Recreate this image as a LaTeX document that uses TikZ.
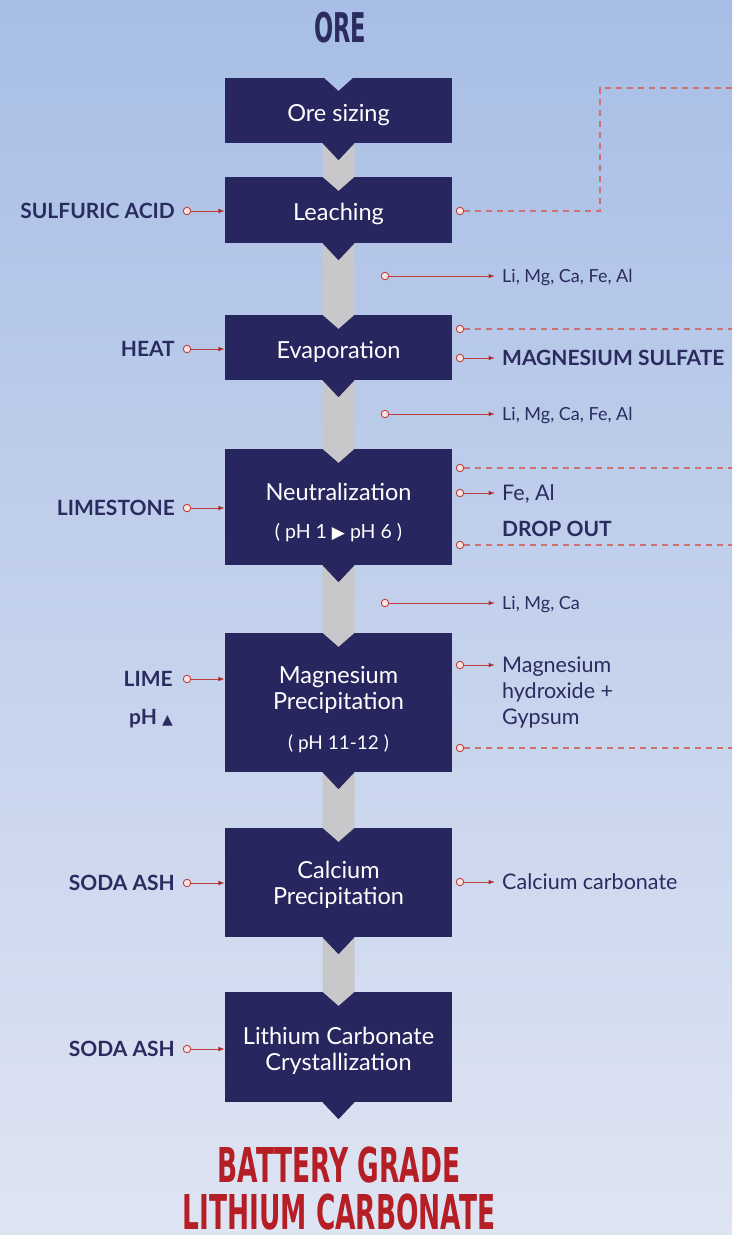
\documentclass[tikz,border=0pt]{standalone}
\usepackage{fontspec}
\setmainfont{Lato}
\newfontfamily\symfont{DejaVu Sans}
\newfontfamily\titlefont[FakeStretch=0.55]{DejaVu Sans}
\usetikzlibrary{arrows.meta}
\definecolor{bgtop}{RGB}{168,190,230}
\definecolor{bgbot}{RGB}{222,228,242}
\definecolor{notchbg}{RGB}{171,193,231}
\definecolor{boxblue}{RGB}{40,38,95}
\definecolor{labelblue}{RGB}{42,44,96}
\definecolor{titlered}{RGB}{181,30,36}
\definecolor{linered}{RGB}{192,62,62}
\definecolor{dashred}{RGB}{204,112,112}
\definecolor{dotpink}{RGB}{250,228,228}
\definecolor{bargray}{RGB}{200,200,203}

\begin{document}
\begin{tikzpicture}[
  x=1pt,y=-1pt,
  >={Latex[length=6.5pt,width=5pt]},
  stage/.style={fill=boxblue,text=white,minimum width=227pt,inner sep=0pt,
    align=center,text depth=0pt,font=\fontsize{23.5}{26}\selectfont},
  bar/.style={fill=bargray},
  tip/.style={fill=boxblue},
  dot/.style={circle,draw=linered,fill=dotpink,line width=0.9pt,
    minimum size=7.5pt,inner sep=0pt},
  inlabel/.style={text=labelblue,inner sep=0pt,anchor=east,text depth=0pt,
    font=\fontsize{21}{24}\selectfont\bfseries},
  outlabel/.style={text=labelblue,inner sep=0pt,anchor=west,align=left,
    text depth=0pt,font=\fontsize{21.5}{26}\selectfont},
  smalllabel/.style={text=labelblue,inner sep=0pt,anchor=west,text depth=0pt,
    font=\fontsize{18}{20}\selectfont},
  feed/.style={draw=linered,line width=1pt,->},
  waste/.style={draw=dashred,line width=1.1pt,dash pattern=on 6pt off 5pt},
  ]
  \useasboundingbox (0,0) rectangle (732,1235);
  \shade[top color=bgtop,bottom color=bgbot] (0,0) rectangle (732,1235);

  % titles
  \node[font=\titlefont\bfseries\fontsize{41}{41}\selectfont,text=labelblue,text depth=0pt] (ore) at (340,27) {ORE};
  \node[font=\titlefont\bfseries\fontsize{48}{47}\selectfont,text=titlered,align=center,text depth=0pt] (product) at (339,1188) {BATTERY GRADE\\LITHIUM CARBONATE};

  % process stages
  \node[stage,minimum height=65pt,text height=21pt] (b1) at (338.5,110.5) {Ore sizing};
  \node[stage,minimum height=66pt,text height=21pt] (b2) at (338.5,210) {Leaching};
  \node[stage,minimum height=65pt,text height=21pt] (b3) at (338.5,347.5) {Evaporation};
  \node[stage,minimum height=116pt] (b4) at (338.5,507) {\rule{0pt}{24pt}Neutralization\\[12pt]{\fontsize{19.5}{20}\selectfont( pH 1 {\symfont\fontsize{17}{17}\selectfont▶} pH 6 )}};
  \node[stage,minimum height=139pt] (b5) at (338.5,702.5) {\rule{0pt}{27pt}Magnesium\\Precipitation\\[14pt]{\fontsize{19}{20}\selectfont( pH 11-12 )}};
  \node[stage,minimum height=109pt] (b6) at (338.5,882.5) {Calcium\\Precipitation};
  \node[stage,minimum height=110pt] (b7) at (338.5,1047) {\rule{0pt}{21pt}Lithium Carbonate\\Crystallization};

  % gray flow bars
  \fill[bar] ([xshift=-16pt]b1.south) -- ([xshift=16pt]b1.south) -- ([xshift=16pt]b2.north) -- ([yshift=-14pt]b2.north) -- ([xshift=-16pt]b2.north) -- cycle;
  \fill[bar] ([xshift=-16pt]b2.south) -- ([xshift=16pt]b2.south) -- ([xshift=16pt]b3.north) -- ([yshift=-14pt]b3.north) -- ([xshift=-16pt]b3.north) -- cycle;
  \fill[bar] ([xshift=-16pt]b3.south) -- ([xshift=16pt]b3.south) -- ([xshift=16pt]b4.north) -- ([yshift=-14pt]b4.north) -- ([xshift=-16pt]b4.north) -- cycle;
  \fill[bar] ([xshift=-16pt]b4.south) -- ([xshift=16pt]b4.south) -- ([xshift=16pt]b5.north) -- ([yshift=-14pt]b5.north) -- ([xshift=-16pt]b5.north) -- cycle;
  \fill[bar] ([xshift=-16pt]b5.south) -- ([xshift=16pt]b5.south) -- ([xshift=16pt]b6.north) -- ([yshift=-14pt]b6.north) -- ([xshift=-16pt]b6.north) -- cycle;
  \fill[bar] ([xshift=-16pt]b6.south) -- ([xshift=16pt]b6.south) -- ([xshift=16pt]b7.north) -- ([yshift=-14pt]b7.north) -- ([xshift=-16pt]b7.north) -- cycle;

  % notch on first stage, tips below every stage
  \fill[notchbg] ([xshift=-15pt,yshift=0.5pt]b1.north) -- ([xshift=15pt,yshift=0.5pt]b1.north) -- ([yshift=-13pt]b1.north) -- cycle;
  \fill[tip] ([xshift=-16pt]b1.south) -- ([xshift=16pt]b1.south) -- ([yshift=-17pt]b1.south) -- cycle;
  \fill[tip] ([xshift=-16pt]b2.south) -- ([xshift=16pt]b2.south) -- ([yshift=-17pt]b2.south) -- cycle;
  \fill[tip] ([xshift=-16pt]b3.south) -- ([xshift=16pt]b3.south) -- ([yshift=-17pt]b3.south) -- cycle;
  \fill[tip] ([xshift=-16pt]b4.south) -- ([xshift=16pt]b4.south) -- ([yshift=-17pt]b4.south) -- cycle;
  \fill[tip] ([xshift=-16pt]b5.south) -- ([xshift=16pt]b5.south) -- ([yshift=-17pt]b5.south) -- cycle;
  \fill[tip] ([xshift=-16pt]b6.south) -- ([xshift=16pt]b6.south) -- ([yshift=-17pt]b6.south) -- cycle;
  \fill[tip] ([xshift=-16pt]b7.south) -- ([xshift=16pt]b7.south) -- ([yshift=-17pt]b7.south) -- cycle;

  % inputs
  \node[inlabel] (acid) at (175,211) {SULFURIC ACID};
  \node[dot] (dacid) at (187,211) {};
  \node[inlabel] (heat) at (175,349) {HEAT};
  \node[dot] (dheat) at (187,349) {};
  \node[inlabel] (limestone) at (175,508) {LIMESTONE};
  \node[dot] (dlimestone) at (187,508) {};
  \node[inlabel] (lime) at (173,679) {LIME};
  \node[dot] (dlime) at (187,679) {};
  \node[inlabel] (ph) at (173,717) {pH {\symfont\fontsize{14}{14}\selectfont▲}};
  \node[inlabel] (soda1) at (175,883) {SODA ASH};
  \node[dot] (dsoda1) at (187,883) {};
  \node[inlabel] (soda2) at (175,1049) {SODA ASH};
  \node[dot] (dsoda2) at (187,1049) {};

  % solution streams
  \node[dot] (ds1) at (385,276) {};
  \node[smalllabel] (s1) at (502,276) {Li, Mg, Ca, Fe, Al};
  \node[dot] (ds2) at (385,414) {};
  \node[smalllabel] (s2) at (502,414) {Li, Mg, Ca, Fe, Al};
  \node[dot] (ds3) at (385,603) {};
  \node[smalllabel] (s3) at (502,603) {Li, Mg, Ca};

  % outputs
  \node[dot] (dleach) at (460,211) {};
  \node[dot] (devap1) at (460,329) {};
  \node[dot] (devap2) at (460,358) {};
  \node[outlabel,font=\fontsize{21}{24}\selectfont\bfseries] (mgso) at (502,358) {MAGNESIUM SULFATE};
  \node[dot] (dneut1) at (460,468) {};
  \node[dot] (dneut2) at (460,493) {};
  \node[outlabel] (feal) at (502,493) {Fe, Al};
  \node[outlabel,font=\fontsize{21}{24}\selectfont\bfseries] (drop) at (502,529) {DROP OUT};
  \node[dot] (dneut3) at (460,545) {};
  \node[dot] (dmag1) at (460,665) {};
  \node[outlabel,anchor=north west,text depth=] (mgoh) at (502,657) {Magnesium\\hydroxide +\\Gypsum};
  \node[dot] (dmag2) at (460,748) {};
  \node[dot] (dcal) at (460,882) {};
  \node[outlabel] (caco) at (502,882) {Calcium carbonate};

  % ends of recycle lines
  \coordinate (k1) at (600,88);
  \coordinate (e1) at (732,88);
  \coordinate (e2) at (732,329);
  \coordinate (e3) at (732,468);
  \coordinate (e4) at (732,545);
  \coordinate (e5) at (732,748);

  \path[feed]
  (dacid) edge (dacid -| b2.west)
  (dheat) edge (dheat -| b3.west)
  (dlimestone) edge (dlimestone -| b4.west)
  (dlime) edge (dlime -| b5.west)
  (dsoda1) edge (dsoda1 -| b6.west)
  (dsoda2) edge (dsoda2 -| b7.west)
  (ds1) edge[shorten >=7pt] (ds1 -| s1.west)
  (ds2) edge[shorten >=7pt] (ds2 -| s2.west)
  (ds3) edge[shorten >=7pt] (ds3 -| s3.west)
  (devap2) edge[shorten >=7pt] (devap2 -| mgso.west)
  (dneut2) edge[shorten >=7pt] (dneut2 -| feal.west)
  (dmag1) edge[shorten >=7pt] (dmag1 -| mgoh.west)
  (dcal) edge[shorten >=7pt] (dcal -| caco.west);

  \draw[waste] (dleach) -| (k1) -- (e1);
  \draw[waste] (devap1) -- (e2);
  \draw[waste] (dneut1) -- (e3);
  \draw[waste] (dneut3) -- (e4);
  \draw[waste] (dmag2) -- (e5);
\end{tikzpicture}
\end{document}
